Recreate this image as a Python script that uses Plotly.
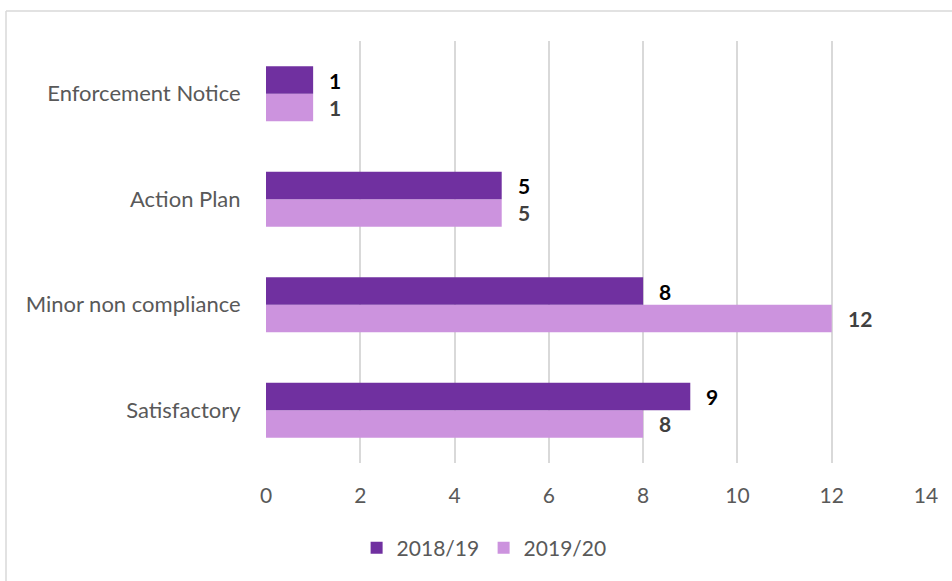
import plotly.graph_objects as go

categories = ["Satisfactory", "Minor non compliance", "Action Plan", "Enforcement Notice"]
series_names = ["2018/19", "2019/20"]
values_2018_19 = [9, 8, 5, 1]
values_2019_20 = [8, 12, 5, 1]
x_ticks = [0, 2, 4, 6, 8, 10, 12, 14]

dark = "#7030A0"
light = "#CC93DE"
font_family = "Lato, 'Open Sans', sans-serif"
txt = 21

fig = go.Figure()
# 2019/20 added first so it sits below 2018/19 within each group
fig.add_trace(go.Bar(
    y=categories, x=values_2019_20, orientation="h", name=series_names[1],
    marker=dict(color=light, line=dict(width=0)), legendrank=2,
))
fig.add_trace(go.Bar(
    y=categories, x=values_2018_19, orientation="h", name=series_names[0],
    marker=dict(color=dark, line=dict(width=0)), legendrank=1,
))

# value labels beside each bar end
for vals, shift, col in [(values_2018_19, 13.5, "#000000"), (values_2019_20, -13.5, "#404040")]:
    for c, v in zip(categories, vals):
        fig.add_annotation(
            x=v, y=c, text=f"<b>{v}</b>", showarrow=False, xanchor="left",
            xshift=14, yshift=shift, font=dict(size=txt, color=col, family=font_family),
        )

fig.update_layout(
    width=952, height=581,
    margin=dict(l=266, r=26, t=41, b=118, autoexpand=False),
    paper_bgcolor="white", plot_bgcolor="white",
    barmode="group", bargap=0.48, bargroupgap=0,
    font=dict(family=font_family, size=txt, color="#595959"),
    showlegend=True,
    legend=dict(
        orientation="h", x=0.508, xanchor="center", xref="container",
        y=(581 - 548) / 581, yref="container", yanchor="middle",
        font=dict(size=txt, color="#595959"), traceorder="normal",
        itemwidth=30, entrywidth=82, entrywidthmode="pixels",
    ),
    xaxis=dict(
        range=[0, 14], tickvals=x_ticks, showgrid=True, gridcolor="#D9D9D9",
        gridwidth=1.5, zeroline=False, showline=False,
        ticks="outside", ticklen=14, tickcolor="rgba(0,0,0,0)",
        tickfont=dict(size=txt, color="#595959"), fixedrange=True,
    ),
    yaxis=dict(
        range=[-0.5, 3.5], showgrid=False, zeroline=False, showline=False,
        ticks="outside", ticklen=20, tickcolor="rgba(0,0,0,0)",
        tickfont=dict(size=22, color="#595959"),
    ),
    shapes=[
        dict(type="line", xref="paper", yref="paper",
             x0=(6 - 266) / 660, x1=1.1, y0=(463 - 11) / 422, y1=(463 - 11) / 422,
             line=dict(color="#D9D9D9", width=1.5)),
        dict(type="line", xref="paper", yref="paper",
             x0=(6 - 266) / 660, x1=(6 - 266) / 660, y0=(463 - 11) / 422, y1=-0.35,
             line=dict(color="#D9D9D9", width=1.5)),
    ],
)

fig.write_html("out.html")
